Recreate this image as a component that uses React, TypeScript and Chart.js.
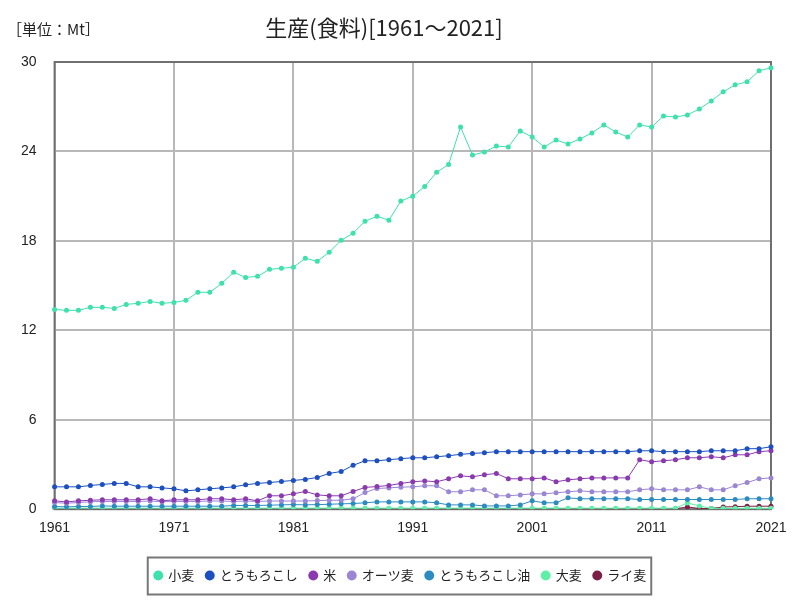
import React, { useEffect, useRef } from "react";
import { Chart, registerables } from "chart.js";

Chart.register(...registerables);

const startYear = 1961;
const endYear = 2021;
const years: string[] = [];
for (let y = startYear; y <= endYear; y++) years.push(String(y));

const seriesNames = ["小麦", "とうもろこし", "米", "オーツ麦", "とうもろこし油", "大麦", "ライ麦"];
const seriesColors = ["#3ee0ac", "#1c4fc0", "#8a3aae", "#9a86d2", "#2c8cc0", "#5ef0a6", "#7c1f46"];

const wheat = [
  13.40, 13.34, 13.34, 13.54, 13.54, 13.47, 13.74, 13.81, 13.94, 13.81,
  13.87, 14.01, 14.55, 14.55, 15.15, 15.89, 15.55, 15.62, 16.09, 16.16,
  16.23, 16.83, 16.63, 17.24, 18.04, 18.51, 19.32, 19.65, 19.39, 20.67,
  21.00, 21.65, 22.60, 23.13, 25.64, 23.76, 23.96, 24.36, 24.30, 25.37,
  24.97, 24.30, 24.77, 24.50, 24.84, 25.24, 25.78, 25.30, 24.97, 25.78,
  25.64, 26.38, 26.31, 26.45, 26.85, 27.39, 28.00, 28.47, 28.67, 29.41,
  29.61,
];

const corn = [
  1.50, 1.50, 1.50, 1.59, 1.66, 1.73, 1.73, 1.50, 1.50, 1.43,
  1.37, 1.23, 1.30, 1.37, 1.43, 1.50, 1.64, 1.73, 1.79, 1.86,
  1.93, 2.00, 2.13, 2.40, 2.53, 2.94, 3.25, 3.25, 3.32, 3.39,
  3.45, 3.45, 3.52, 3.59, 3.68, 3.74, 3.79, 3.86, 3.86, 3.86,
  3.86, 3.86, 3.86, 3.86, 3.86, 3.86, 3.86, 3.86, 3.86, 3.92,
  3.92, 3.86, 3.86, 3.86, 3.86, 3.92, 3.92, 3.92, 4.06, 4.06,
  4.19,
];

const rice = [
  0.56, 0.49, 0.56, 0.60, 0.63, 0.63, 0.63, 0.63, 0.70, 0.56,
  0.63, 0.63, 0.63, 0.70, 0.70, 0.63, 0.70, 0.56, 0.90, 0.90,
  1.03, 1.19, 0.96, 0.90, 0.90, 1.19, 1.46, 1.52, 1.59, 1.73,
  1.84, 1.90, 1.84, 2.04, 2.24, 2.17, 2.31, 2.40, 2.04, 2.04,
  2.04, 2.10, 1.84, 1.97, 2.04, 2.10, 2.10, 2.10, 2.10, 3.32,
  3.18, 3.25, 3.32, 3.45, 3.45, 3.52, 3.45, 3.65, 3.65, 3.86,
  3.92,
];

const oats = [
  0.45, 0.40, 0.45, 0.50, 0.52, 0.52, 0.52, 0.52, 0.55, 0.50,
  0.52, 0.52, 0.52, 0.55, 0.55, 0.52, 0.55, 0.52, 0.55, 0.55,
  0.55, 0.55, 0.58, 0.60, 0.60, 0.70, 1.12, 1.39, 1.43, 1.48,
  1.50, 1.57, 1.57, 1.17, 1.17, 1.30, 1.30, 0.90, 0.90, 0.96,
  1.03, 1.03, 1.10, 1.17, 1.23, 1.17, 1.17, 1.17, 1.17, 1.30,
  1.37, 1.30, 1.30, 1.30, 1.50, 1.30, 1.30, 1.57, 1.79, 2.04,
  2.10,
];

const cornOil = [
  0.18, 0.16, 0.18, 0.18, 0.22, 0.20, 0.20, 0.20, 0.20, 0.20,
  0.20, 0.20, 0.20, 0.20, 0.20, 0.25, 0.25, 0.25, 0.27, 0.29,
  0.31, 0.29, 0.31, 0.33, 0.36, 0.38, 0.43, 0.49, 0.49, 0.49,
  0.49, 0.49, 0.43, 0.29, 0.29, 0.29, 0.22, 0.22, 0.22, 0.29,
  0.56, 0.43, 0.43, 0.76, 0.70, 0.70, 0.70, 0.70, 0.70, 0.65,
  0.65, 0.65, 0.65, 0.65, 0.65, 0.65, 0.65, 0.65, 0.70, 0.70,
  0.70,
];

const barley = [
  0.07, 0.07, 0.07, 0.07, 0.07, 0.07, 0.07, 0.07, 0.07, 0.07,
  0.07, 0.07, 0.07, 0.07, 0.07, 0.07, 0.07, 0.07, 0.07, 0.07,
  0.07, 0.07, 0.07, 0.07, 0.07, 0.07, 0.07, 0.07, 0.07, 0.07,
  0.07, 0.07, 0.07, 0.07, 0.07, 0.07, 0.07, 0.07, 0.07, 0.07,
  0.07, 0.07, 0.07, 0.07, 0.07, 0.07, 0.07, 0.07, 0.07, 0.07,
  0.07, 0.07, 0.07, 0.42, 0.22, 0.05, 0.06, 0.06, 0.06, 0.06,
  0.06,
];

const rye = [
  0.01, 0.01, 0.01, 0.01, 0.01, 0.01, 0.01, 0.01, 0.01, 0.01,
  0.01, 0.01, 0.01, 0.01, 0.01, 0.01, 0.01, 0.01, 0.01, 0.01,
  0.01, 0.01, 0.01, 0.01, 0.01, 0.01, 0.01, 0.01, 0.01, 0.01,
  0.01, 0.01, 0.01, 0.01, 0.01, 0.01, 0.01, 0.01, 0.01, 0.01,
  0.01, 0.01, 0.01, 0.01, 0.01, 0.01, 0.01, 0.01, 0.01, 0.01,
  0.01, 0.01, 0.03, 0.15, 0.05, 0.05, 0.15, 0.17, 0.20, 0.20,
  0.20,
];

const seriesValues = [wheat, corn, rice, oats, cornOil, barley, rye];

const yTicks = [0, 6, 12, 18, 24, 30];
const titleText = "生産(食料)[1961～2021]";
const unitText = "［単位：Mt］";

const JP_FONT = "'Noto Sans CJK JP', 'Noto Sans', sans-serif";
const NUM_FONT = "'Liberation Sans', Arial, sans-serif";

const framePlugin = {
  id: "framePlugin",
  afterLayout(chart: any) {
    const legend = chart.legend;
    if (legend) {
      legend.left = 0;
      legend.right = 801;
    }
  },
  beforeDatasetsDraw(chart: any) {
    const { ctx, chartArea } = chart;
    ctx.save();
    ctx.strokeStyle = "#707070";
    ctx.lineWidth = 2;
    ctx.strokeRect(chartArea.left, chartArea.top, chartArea.right - chartArea.left, chartArea.bottom - chartArea.top);
    ctx.restore();
  },
  afterDraw(chart: any) {
    const { ctx } = chart;
    ctx.save();
    ctx.fillStyle = "#222";
    ctx.textBaseline = "middle";
    ctx.textAlign = "center";
    ctx.font = `22px ${JP_FONT}`;
    ctx.fillText(titleText, 384, 28);
    ctx.textAlign = "left";
    ctx.font = `15px ${JP_FONT}`;
    ctx.fillText(unitText, 7, 29);
    const legend = chart.legend;
    if (legend && legend.legendHitBoxes && legend.legendHitBoxes.length) {
      const boxes = legend.legendHitBoxes;
      let l = Infinity, r = -Infinity, cy = 0;
      boxes.forEach((b: any) => {
        l = Math.min(l, b.left);
        r = Math.max(r, b.left + b.width);
        cy = b.top + b.height / 2;
      });
      ctx.strokeStyle = "#777";
      ctx.lineWidth = 2;
      ctx.strokeRect(l - 7, cy - 18, r - l + 12, 37);
    }
    ctx.restore();
  },
};

export default function App() {
  const canvasRef = useRef<HTMLCanvasElement | null>(null);

  useEffect(() => {
    if (!canvasRef.current) return;
    const chart = new Chart(canvasRef.current, {
      type: "line",
      data: {
        labels: years,
        datasets: seriesNames.map((name, i) => ({
          label: name,
          data: seriesValues[i],
          borderColor: seriesColors[i],
          backgroundColor: seriesColors[i],
          pointBackgroundColor: seriesColors[i],
          pointBorderColor: seriesColors[i],
          borderWidth: 1,
          pointRadius: 2.5,
          pointBorderWidth: 0,
          tension: 0,
          fill: false,
        })),
      },
      options: {
        animation: false,
        responsive: false,
        maintainAspectRatio: false,
        layout: { padding: { top: 62, left: 3, right: 29, bottom: 8 } },
        plugins: {
          title: { display: false },
          tooltip: { enabled: false },
          legend: {
            position: "bottom",
            labels: {
              usePointStyle: true,
              pointStyle: "circle",
              boxWidth: 7,
              boxHeight: 7,
              padding: 12,
              color: "#222",
              font: { family: JP_FONT, size: 13 },
            },
          },
        },
        scales: {
          x: {
            type: "category",
            offset: false,
            afterBuildTicks: (scale: any) => {
              scale.ticks = scale.ticks.filter((t: any) => t.value % 10 === 0);
            },
            afterFit: (scale: any) => {
              scale.height += 9;
            },
            ticks: {
              autoSkip: false,
              maxRotation: 0,
              color: "#222",
              padding: 11,
              font: { family: NUM_FONT, size: 14 },
            },
            grid: { color: "#b8b8b8", lineWidth: 2, drawTicks: false },
            border: { display: false },
          },
          y: {
            min: 0,
            max: 30,
            afterBuildTicks: (scale: any) => {
              scale.ticks = yTicks.map((v) => ({ value: v }));
            },
            ticks: {
              color: "#222",
              padding: 18,
              font: { family: NUM_FONT, size: 14 },
            },
            grid: { color: "#b8b8b8", lineWidth: 2, drawTicks: false },
            border: { display: false },
          },
        },
      },
      plugins: [framePlugin],
    });
    return () => chart.destroy();
  }, []);

  return (
    <div style={{ position: "absolute", left: 0, top: 0, width: 800, height: 600, background: "#fff" }}>
      <canvas ref={canvasRef} width={800} height={600} style={{ width: 800, height: 600, display: "block" }} />
    </div>
  );
}
